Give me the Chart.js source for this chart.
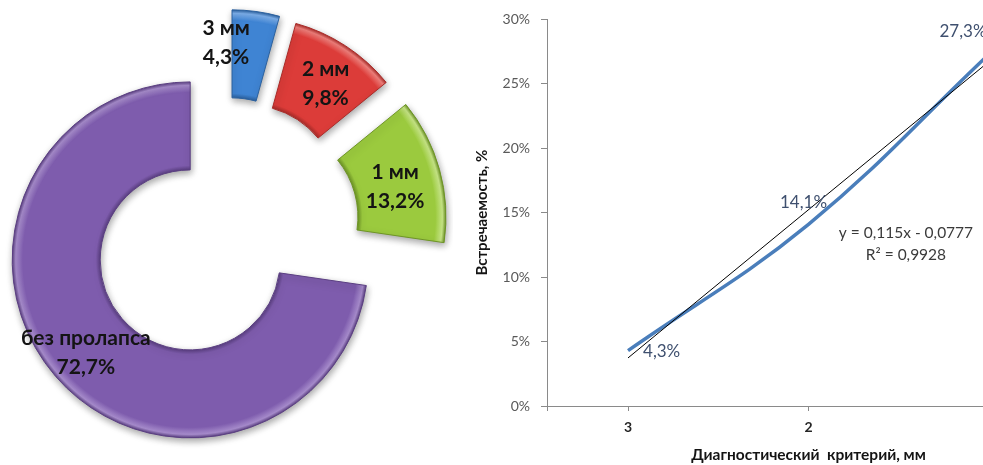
<!DOCTYPE html>
<html lang="ru">
<head>
<meta charset="utf-8">
<title>Пролапс: распределение и встречаемость</title>
<script src="https://cdn.jsdelivr.net/npm/chart.js@4.4.1/dist/chart.umd.min.js"></script>
<style>
  html, body { margin: 0; padding: 0; background: #fff; }
  body { width: 983px; height: 465px; overflow: hidden; position: relative; }
  #pie { position: absolute; left: 0; top: 0; }
  #line { position: absolute; left: 470px; top: 0; }
</style>
</head>
<body>
<canvas id="pie" width="453" height="457"></canvas>
<canvas id="line" width="605" height="465"></canvas>
<script>
// Распределение по степени пролапса, %
const sliceLabels = ['3 мм', '2 мм', '1 мм', 'без пролапса'];
const sliceShares = [4.3, 9.8, 13.2, 72.7];

// Встречаемость в зависимости от диагностического критерия, %
const criterionLabels = ['3', '2', '1'];
const occurrence = [4.3, 14.1, 27.3];
const yTickValues = [0, 5, 10, 15, 20, 25, 30];

// Линейный тренд по номеру категории (в долях)
const trendSlope = 0.115;
const trendIntercept = -0.0777;
const trendR2 = 0.9928;

// ---- оформление кольцевой диаграммы ----
const sliceColors = ['#3F84D3', '#DC3C39', '#9BCA3E', '#7E5CAD'];
const sliceLight  = ['#7DB0EC', '#F07F7B', '#C6E585', '#A68BCB'];
const sliceDark   = ['#2B619F', '#A92B28', '#6E9526', '#5B3F82'];
const sliceShift  = [41, 40, 43, 48];
const sliceLabelNudge = [[-24, -12], [4, 1], [-2, 5], [-3, 5]];
const OUTER_R = 178, INNER_R = 90;

const fmt = (v, digits) => v.toFixed(digits).replace('.', ',');

function sliceFill(c) {
  const chart = c.chart, area = chart.chartArea, i = c.dataIndex;
  if (!area) return sliceColors[i];
  const cx = (area.left + area.right) / 2, cy = (area.top + area.bottom) / 2;
  const g = chart.ctx.createRadialGradient(cx, cy, INNER_R, cx, cy, OUTER_R);
  g.addColorStop(0, sliceDark[i]);
  g.addColorStop(0.05, sliceColors[i]);
  g.addColorStop(0.12, sliceColors[i]);
  g.addColorStop(0.88, sliceColors[i]);
  g.addColorStop(0.96, sliceLight[i]);
  g.addColorStop(1, sliceDark[i]);
  return g;
}

// сдвигает каждый сектор вдоль его биссектрисы и рисует с тенью
const explodePlugin = {
  id: 'explode',
  beforeDatasetDraw(chart, args) {
    const ctx = chart.ctx;
    args.meta.data.forEach((arc, i) => {
      const mid = (arc.startAngle + arc.endAngle) / 2;
      const d = sliceShift[i];
      ctx.save();
      ctx.shadowColor = 'rgba(0,0,0,0.35)';
      ctx.shadowBlur = 7;
      ctx.shadowOffsetX = 1;
      ctx.shadowOffsetY = 3;
      ctx.translate(Math.cos(mid) * d, Math.sin(mid) * d);
      arc.draw(ctx);
      ctx.restore();
    });
    return false;
  },
  afterDatasetsDraw(chart) {
    const ctx = chart.ctx;
    const meta = chart.getDatasetMeta(0);
    ctx.save();
    ctx.font = 'bold 21px Lato, "Open Sans", sans-serif';
    ctx.fillStyle = '#141414';
    ctx.textAlign = 'center';
    ctx.textBaseline = 'middle';
    meta.data.forEach((arc, i) => {
      const mid = (arc.startAngle + arc.endAngle) / 2;
      const r = sliceShift[i] + (arc.innerRadius + arc.outerRadius) / 2;
      const x = arc.x + Math.cos(mid) * r + sliceLabelNudge[i][0];
      const y = arc.y + Math.sin(mid) * r + sliceLabelNudge[i][1];
      ctx.fillText(sliceLabels[i], x, y - 14.5);
      ctx.fillText(fmt(sliceShares[i], 1) + '%', x, y + 14.5);
    });
    ctx.restore();
  }
};

new Chart(document.getElementById('pie'), {
  type: 'doughnut',
  data: {
    labels: sliceLabels,
    datasets: [{
      data: sliceShares,
      backgroundColor: sliceFill,
      borderColor: sliceDark,
      borderWidth: 1,
      offset: 0,
      hoverOffset: 0
    }]
  },
  options: {
    responsive: false,
    animation: false,
    events: [],
    radius: OUTER_R,
    cutout: (INNER_R / OUTER_R * 100) + '%',
    layout: { padding: 0 },
    plugins: { legend: { display: false }, tooltip: { enabled: false } }
  },
  plugins: [explodePlugin]
});

// ---- график встречаемости ----
const pointLabelPlacement = [
  { dx: 15, dy: 1, align: 'left' },
  { dx: -5, dy: -22, align: 'center' },
  { dx: -26, dy: -23, align: 'center' }
];

const lineLabelsPlugin = {
  id: 'lineLabels',
  afterDatasetsDraw(chart) {
    const ctx = chart.ctx;
    const meta = chart.getDatasetMeta(0);
    ctx.save();
    ctx.font = '17px Lato, "Open Sans", sans-serif';
    ctx.fillStyle = '#3F506F';
    ctx.textBaseline = 'middle';
    meta.data.forEach((pt, i) => {
      const p = pointLabelPlacement[i];
      ctx.textAlign = p.align;
      ctx.fillText(fmt(occurrence[i], 1) + '%', pt.x + p.dx, pt.y + p.dy);
    });
    // уравнение тренда
    const xs = chart.scales.x, ys = chart.scales.y;
    const ex = xs.getPixelForValue(2.54), ey = ys.getPixelForValue(13.4);
    ctx.font = '15.5px Lato, "Open Sans", sans-serif';
    ctx.fillStyle = '#3A3A3A';
    ctx.textAlign = 'center';
    const sign = trendIntercept < 0 ? ' - ' : ' + ';
    ctx.fillText('y = ' + fmt(trendSlope, 3) + 'x' + sign + fmt(Math.abs(trendIntercept), 4), ex, ey);
    ctx.fillText('R² = ' + fmt(trendR2, 4), ex, ey + 22);
    ctx.restore();
  }
};

const axisGray = '#8A8A8A';

new Chart(document.getElementById('line'), {
  type: 'line',
  data: {
    datasets: [
      {
        label: 'Встречаемость',
        data: occurrence.map((v, i) => ({ x: i + 1, y: v })),
        borderColor: '#4A7EBB',
        borderWidth: 3.5,
        tension: 0.4,
        pointRadius: 0,
        fill: false,
        order: 1
      },
      {
        label: 'Линейный тренд',
        data: [1, criterionLabels.length].map(x => ({ x: x, y: (trendSlope * x + trendIntercept) * 100 })),
        borderColor: '#000000',
        borderWidth: 1,
        tension: 0,
        pointRadius: 0,
        fill: false,
        order: 0
      }
    ]
  },
  options: {
    responsive: false,
    animation: false,
    events: [],
    layout: { padding: { top: 18, right: 5, left: 0, bottom: 0 } },
    plugins: { legend: { display: false }, tooltip: { enabled: false } },
    scales: {
      x: {
        type: 'linear',
        min: 0.551,
        max: 3.449,
        border: { color: axisGray, width: 1 },
        grid: { drawOnChartArea: false, drawTicks: true, tickLength: 5, color: axisGray },
        afterBuildTicks: s => {
          s.ticks = [{ value: s.min }].concat(criterionLabels.map((_, i) => ({ value: i + 1 })));
        },
        ticks: {
          autoSkip: false,
          maxRotation: 0,
          padding: 8,
          color: '#262626',
          font: { family: 'Lato', size: 14, weight: 'bold' },
          callback: v => (Number.isInteger(v) && criterionLabels[v - 1] !== undefined) ? criterionLabels[v - 1] : ''
        },
        afterFit: s => { s.height = 59; },
        title: {
          display: true,
          text: 'Диагностический  критерий, мм',
          color: '#141414',
          font: { family: 'Lato', size: 15.5, weight: 'bold' },
          padding: { top: 0, bottom: 1 }
        }
      },
      y: {
        min: 0,
        max: 30,
        border: { color: axisGray, width: 1 },
        grid: { drawOnChartArea: false, drawTicks: true, tickLength: 6, color: axisGray },
        afterBuildTicks: s => { s.ticks = yTickValues.map(v => ({ value: v })); },
        ticks: {
          padding: 11,
          color: '#595959',
          font: { family: 'Lato', size: 14 },
          callback: v => v + '%'
        },
        afterFit: s => { s.width = 77; },
        title: {
          display: true,
          text: 'Встречаемость, %',
          color: '#141414',
          font: { family: 'Lato', size: 15, weight: 'bold' },
          padding: { top: 3, bottom: 0 }
        }
      }
    }
  },
  plugins: [lineLabelsPlugin]
});
</script>
</body>
</html>
